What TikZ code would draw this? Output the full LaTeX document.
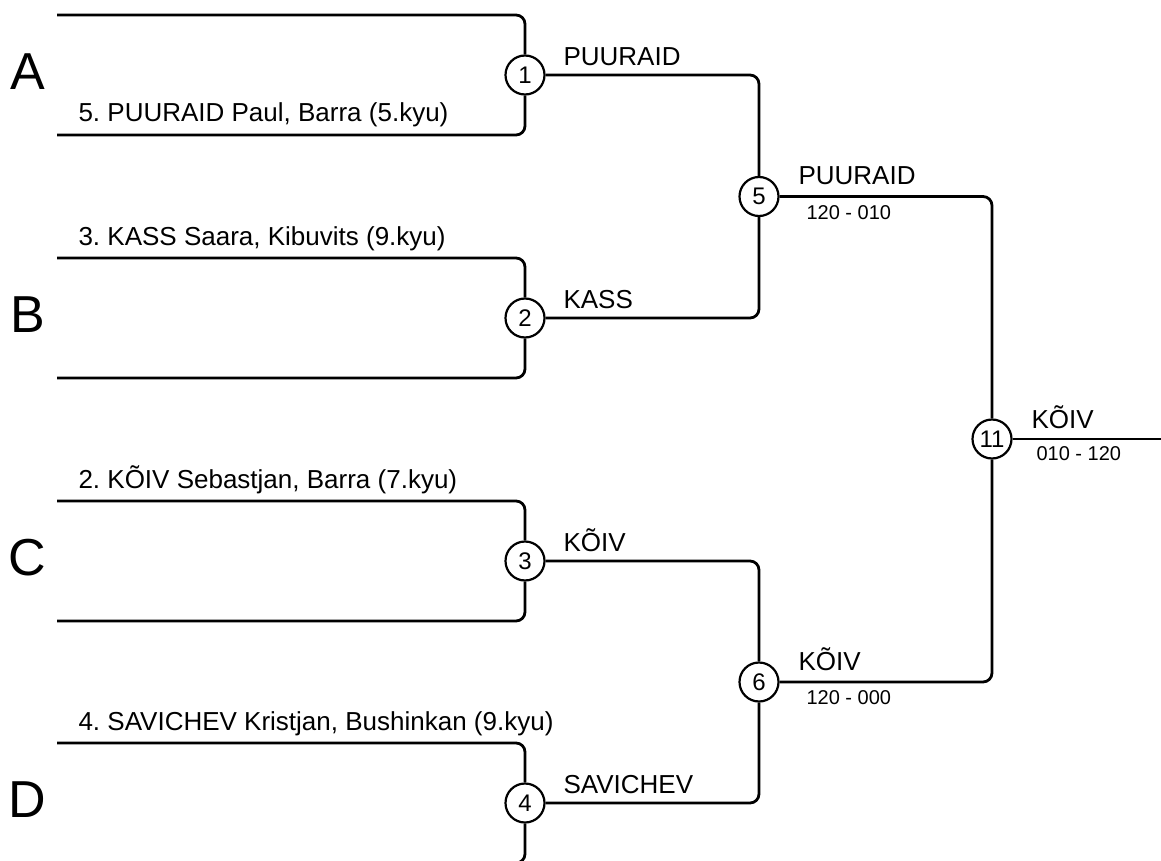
\documentclass[tikz,border=0pt]{standalone}
\usepackage{fontspec}
\setmainfont{Liberation Sans}
\frenchspacing
\usetikzlibrary{positioning}

\tikzset{
    bline/.style={line width=2.8pt, rounded corners=9pt},
    match/.style={circle, draw, line width=2.2pt, fill=white, minimum size=39pt,
        inner sep=0pt, font=\fontsize{24}{24}\selectfont},
    pool/.style={font=\fontsize{52}{52}\selectfont},
    player/.style={anchor=base west, font=\fontsize{26}{26}\selectfont},
    winner/.style={anchor=base west, font=\fontsize{26}{26}\selectfont},
    score/.style={anchor=base west, font=\fontsize{20}{20}\selectfont},
}

\begin{document}
\begin{tikzpicture}[x=1pt, y=-1pt]
\useasboundingbox (0,0) rectangle (1161,861);

    % first round
    \foreach \i/\y/\pl in {1/75/A, 2/318/B, 3/561/C, 4/803/D} {
        \node[pool] (p\i) at (27.5,\y-3) {\pl};
        \coordinate (t\i) at (57,\y-60);
        \coordinate (b\i) at (57,\y+60);
        \node[match] (m\i) at (525,\y) {\i};
        \draw[bline] (t\i) -| (m\i.north);
        \draw[bline] (b\i) -| (m\i.south);
    }

    % second round
    \node[match] (m5) at (759,196.5) {5};
    \node[match] (m6) at (759,682) {6};
    \draw[bline] (m1.east) -| (m5.north);
    \draw[bline] (m2.east) -| (m5.south);
    \draw[bline] (m3.east) -| (m6.north);
    \draw[bline] (m4.east) -| (m6.south);

    % final
    \node[match] (m11) at (992,439) {11};
    \coordinate (fin) at (1161,439);
    \draw[bline] (m5.east) -| (m11.north);
    \draw[bline] (m6.east) -| (m11.south);
    \draw[bline] (m11.east) -- (fin);

    % names
    \node[player] (n1) at (75,122) {5. PUURAID Paul, Barra (5.kyu)};
    \node[player] (n2) at (75,245) {3. KASS Saara, Kibuvits (9.kyu)};
    \node[player] (n3) at (75,488) {2. KÕIV Sebastjan, Barra (7.kyu)};
    \node[player] (n4) at (75,730) {4. SAVICHEV Kristjan, Bushinkan (9.kyu)};

    % winners
    \node[winner] (w1) at (560,66) {PUURAID};
    \node[winner] (w2) at (560,308) {KASS};
    \node[winner] (w3) at (560,551) {KÕIV};
    \node[winner] (w4) at (560,793) {SAVICHEV};
    \node[winner] (w5) at (795,185) {PUURAID};
    \node[score]  (s5) at (803,219) {120 - 010};
    \node[winner] (w6) at (795,670) {KÕIV};
    \node[score]  (s6) at (803,704) {120 - 000};
    \node[winner] (w11) at (1028,428) {KÕIV};
    \node[score]  (s11) at (1033,460) {010 - 120};
\end{tikzpicture}
\end{document}
